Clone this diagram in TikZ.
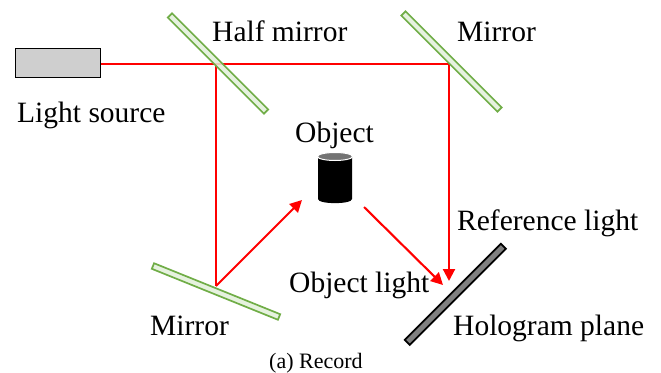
\documentclass[tikz,border=0pt]{standalone}
\usepackage{fontspec}
\setmainfont{Liberation Serif}
\usepackage[dvipsnames]{xcolor}
\usetikzlibrary{arrows.meta,positioning,calc}
\definecolor{mirrorgreen}{HTML}{70AD47}
\definecolor{mirrorfill}{HTML}{E2F0D9}

\begin{document}
\begin{tikzpicture}[
  x=1pt, y=-1pt,
  lbl/.style={anchor=base west, inner sep=0pt, font=\fontsize{29.5}{30}\selectfont},
  plate/.style={rectangle, draw, line width=1.7pt, inner sep=0pt, minimum width=136pt, minimum height=6pt},
  mirror/.style={plate, draw=mirrorgreen, fill=mirrorfill, fill opacity=.85},
  ray/.style={red, line width=2.1pt},
  arr/.style={ray, -{Triangle[length=12pt,width=12pt]}}
]
\useasboundingbox (0,0) rectangle (661,372);

\node[rectangle, draw=black, line width=1.7pt, fill=black!19, inner sep=0pt, minimum width=85pt, minimum height=29pt] (source) at (58,63) {};

\coordinate (hsplit) at (216,64);
\coordinate (mturn) at (449,64);
\coordinate (lturn) at (216,286);
\coordinate (objin) at (302,200);
\coordinate (objout) at (364,207);
\coordinate (holoa) at (443,285);
\coordinate (holob) at (449,281);

% beams
\draw[ray] (source.east |- hsplit) -- (hsplit) -- (mturn);
\draw[ray] (hsplit) -- (lturn);
\draw[arr] (lturn) -- (objin);
\draw[arr] (objout) -- (holoa);
\draw[arr] (mturn) -- (holob);

% optics
\node[mirror, rotate=-45] (halfm) at (218,63.5) {};
\node[mirror, rotate=-45] (topm) at (451.5,61.5) {};
\node[mirror, rotate=-22] (lowm) at (216,291.5) {};
\node[plate, draw=black, fill=black!50, rotate=45, minimum height=7pt] (holo) at (455.3,294.3) {};

% object
\fill[black] (318,157) -- (318,199) .. controls (318,204.5) and (352,204.5) .. (352,199) -- (352,157) -- cycle;
\draw[white, line width=1pt, fill=black!55] (335,156.5) ellipse (17.5 and 4);

\node[lbl] (lblhalf) at (212,41) {Half mirror};
\node[lbl] (lbltop) at (457,41) {Mirror};
\node[lbl] (lblsource) at (17,122) {Light source};
\node[lbl] (lblobject) at (295,142) {Object};
\node[lbl] (lblref) at (457,230) {Reference light};
\node[lbl] (lblobjl) at (289,292) {Object light};
\node[lbl] (lbllow) at (150,335) {Mirror};
\node[lbl] (lblholo) at (453,335) {Hologram plane};
\node[lbl, font=\fontsize{22}{24}\selectfont] (caption) at (269,368) {(a) Record};
\end{tikzpicture}
\end{document}
